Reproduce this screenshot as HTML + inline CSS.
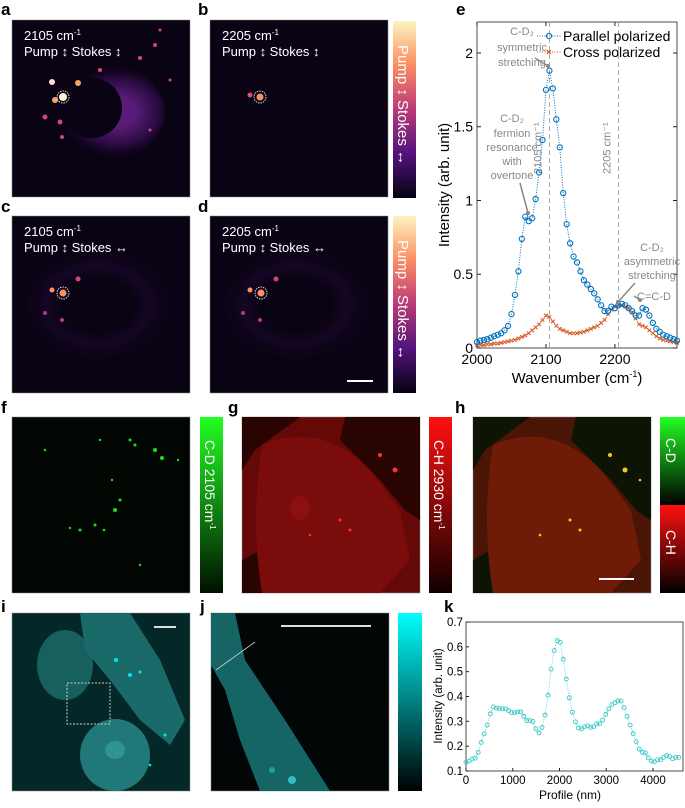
<!DOCTYPE html>
<html><head><meta charset="utf-8"><style>
body{margin:0;background:#fff;font-family:"Liberation Sans",sans-serif}
svg text{font-family:"Liberation Sans","DejaVu Sans",sans-serif}
</style></head><body>
<svg id="fig" width="685" height="803" viewBox="0 0 685 803" xmlns="http://www.w3.org/2000/svg">
<defs>
<linearGradient id="magma" x1="0" y1="0" x2="0" y2="1"><stop offset="0" stop-color="#fcf5c0"/><stop offset="0.25" stop-color="#fc8c62"/><stop offset="0.5" stop-color="#b93a78"/><stop offset="0.75" stop-color="#52137c"/><stop offset="1" stop-color="#050210"/></linearGradient>
<linearGradient id="green" x1="0" y1="0" x2="0" y2="1"><stop offset="0" stop-color="#22ff22"/><stop offset="1" stop-color="#001000"/></linearGradient>
<linearGradient id="red" x1="0" y1="0" x2="0" y2="1"><stop offset="0" stop-color="#ff1010"/><stop offset="1" stop-color="#100000"/></linearGradient>
<linearGradient id="gr1" x1="0" y1="0" x2="0" y2="1"><stop offset="0" stop-color="#22ff22"/><stop offset="1" stop-color="#000"/></linearGradient>
<linearGradient id="rd1" x1="0" y1="0" x2="0" y2="1"><stop offset="0" stop-color="#ff1010"/><stop offset="1" stop-color="#000"/></linearGradient>
<linearGradient id="cyan" x1="0" y1="0" x2="0" y2="1"><stop offset="0" stop-color="#00ffff"/><stop offset="1" stop-color="#000"/></linearGradient>
<radialGradient id="cellA" cx="0.6" cy="0.5" r="0.5"><stop offset="0.3" stop-color="#5a1c78"/><stop offset="0.7" stop-color="#2a0a40"/><stop offset="1" stop-color="#0a0314" stop-opacity="0"/></radialGradient>
<radialGradient id="cellC" cx="0.5" cy="0.5" r="0.5"><stop offset="0.45" stop-color="#0a0314"/><stop offset="0.65" stop-color="#140624"/><stop offset="1" stop-color="#0a0314" stop-opacity="0"/></radialGradient>
</defs>

<g font-weight="bold" font-size="17" fill="#000">
<text x="1" y="15">a</text>
<text x="198" y="15">b</text>
<text x="1" y="212">c</text>
<text x="198" y="212">d</text>
<text x="456" y="15">e</text>
<text x="1" y="413">f</text>
<text x="228" y="413">g</text>
<text x="455" y="413">h</text>
<text x="1" y="612">i</text>
<text x="200" y="612">j</text>
<text x="444" y="612">k</text>
</g>

<g>
<rect x="12" y="20" width="178" height="177" fill="#0a0314" stroke="#888" stroke-width="0.5"/>
<ellipse cx="105" cy="112" rx="60" ry="48" fill="url(#cellA)"/>
<ellipse cx="92" cy="108" rx="30" ry="30" fill="#0a0314"/>
<g fill="#d0457a"><circle cx="52" cy="82" r="3" fill="#fdd"/><circle cx="63" cy="97" r="4" fill="#fff4d0"/><circle cx="78" cy="83" r="3" fill="#fca060"/><circle cx="45" cy="117" r="2.5"/><circle cx="60" cy="122" r="2.5"/><circle cx="62" cy="137" r="2"/><circle cx="100" cy="70" r="2"/><circle cx="140" cy="58" r="2"/><circle cx="155" cy="45" r="2"/><circle cx="160" cy="30" r="1.5"/><circle cx="170" cy="80" r="1.5"/><circle cx="150" cy="130" r="1.5"/><circle cx="55" cy="100" r="3" fill="#fca060"/></g>
<circle cx="63" cy="97" r="6" fill="none" stroke="#ddd" stroke-dasharray="1.5 1"/>
<text x="24" y="40" fill="#fff" font-size="13">2105 cm<tspan font-size="8" dy="-5">-1</tspan></text>
<text x="24" y="56" fill="#fff" font-size="13">Pump ↕ Stokes ↕</text>
</g>
<g>
<rect x="210" y="20" width="178" height="177" fill="#0a0314" stroke="#888" stroke-width="0.5"/>
<circle cx="250" cy="95" r="2.5" fill="#e0506a"/><circle cx="260" cy="97" r="3.5" fill="#fb9060"/><circle cx="260" cy="97" r="6" fill="none" stroke="#ddd" stroke-dasharray="1.5 1"/>
<text x="222" y="40" fill="#fff" font-size="13">2205 cm<tspan font-size="8" dy="-5">-1</tspan></text>
<text x="222" y="56" fill="#fff" font-size="13">Pump ↕ Stokes ↕</text>
</g>
<g>
<rect x="12" y="216" width="178" height="177" fill="#0a0314" stroke="#888" stroke-width="0.5"/>
<ellipse cx="98" cy="305" rx="80" ry="60" fill="url(#cellC)"/>
<circle cx="52" cy="290" r="2.5" fill="#fb9060"/><circle cx="63" cy="293" r="3.5" fill="#fb9060"/><circle cx="78" cy="279" r="2.5" fill="#d0457a"/><circle cx="45" cy="313" r="2" fill="#b03a8a"/><circle cx="62" cy="320" r="2" fill="#b03a8a"/>
<circle cx="63" cy="293" r="6" fill="none" stroke="#ddd" stroke-dasharray="1.5 1"/>
<text x="24" y="236" fill="#fff" font-size="13">2105 cm<tspan font-size="8" dy="-5">-1</tspan></text>
<text x="24" y="252" fill="#fff" font-size="13">Pump ↕ Stokes ↔</text>
</g>
<g>
<rect x="210" y="216" width="178" height="177" fill="#0a0314" stroke="#888" stroke-width="0.5"/>
<ellipse cx="296" cy="305" rx="80" ry="60" fill="url(#cellC)"/>
<circle cx="250" cy="290" r="2.5" fill="#fb9060"/><circle cx="261" cy="293" r="3.5" fill="#fb9060"/><circle cx="276" cy="279" r="2.5" fill="#d0457a"/><circle cx="243" cy="313" r="2" fill="#b03a8a"/><circle cx="260" cy="320" r="2" fill="#b03a8a"/>
<circle cx="261" cy="293" r="6" fill="none" stroke="#ddd" stroke-dasharray="1.5 1"/>
<line x1="347" y1="381" x2="373" y2="381" stroke="#fff" stroke-width="2"/>
<text x="222" y="236" fill="#fff" font-size="13">2205 cm<tspan font-size="8" dy="-5">-1</tspan></text>
<text x="222" y="252" fill="#fff" font-size="13">Pump ↕ Stokes ↔</text>
</g>
<g>
<rect x="393" y="21" width="23" height="177" fill="url(#magma)"/>
<text transform="translate(398,45) rotate(90)" fill="#fff" font-size="15">Pump ↕ Stokes ↔</text>
</g>
<g>
<rect x="393" y="216" width="23" height="177" fill="url(#magma)"/>
<text transform="translate(398,240) rotate(90)" fill="#fff" font-size="15">Pump ↕ Stokes ↔</text>
</g>

<g>
<rect x="12" y="417" width="178" height="176" fill="#020602" stroke="#888" stroke-width="0.5"/>
<g fill="#22d822"><circle cx="130" cy="440" r="1.5"/><circle cx="155" cy="450" r="2"/><circle cx="162" cy="458" r="2"/><circle cx="120" cy="500" r="1.5"/><circle cx="115" cy="510" r="2"/><circle cx="95" cy="525" r="1.5"/><circle cx="80" cy="530" r="1.5"/><circle cx="70" cy="528" r="1.2"/><circle cx="45" cy="450" r="1.2"/><circle cx="140" cy="565" r="1.2"/><circle cx="178" cy="460" r="1.2"/><circle cx="104" cy="530" r="1.3"/><circle cx="112" cy="480" r="1.2"/><circle cx="100" cy="440" r="1.2"/><circle cx="135" cy="445" r="1.5"/></g>
</g>
<g>
<rect x="200" y="417" width="23" height="176" fill="url(#green)"/>
<text transform="translate(205,440) rotate(90)" fill="#fff" font-size="14">C-D 2105 cm<tspan font-size="8" dy="-5">-1</tspan></text>
</g>
<g>
<rect x="242" y="417" width="178" height="176" fill="#640808" stroke="#888" stroke-width="0.5"/>
<path d="M242,417 L300,417 L255,450 L242,470Z M345,417 L420,417 L420,520 L405,510 L380,480 L340,440Z M242,560 L270,545 L300,560 L280,593 L242,593Z" fill="#2a0303"/>
<path d="M262,445 Q320,420 370,470 L400,510 L410,560 L380,593 L262,593 Q250,520 262,445Z" fill="#7a0c0c"/>
<ellipse cx="300" cy="508" rx="10" ry="12" fill="#8c1010"/>
<g fill="#ff3030"><circle cx="380" cy="455" r="2"/><circle cx="395" cy="470" r="2.5"/><circle cx="340" cy="520" r="1.5"/><circle cx="350" cy="530" r="1.5"/><circle cx="310" cy="535" r="1.3"/></g>
</g>
<g>
<rect x="429" y="417" width="23" height="176" fill="url(#red)"/>
<text transform="translate(434,440) rotate(90)" fill="#fff" font-size="14">C-H 2930 cm<tspan font-size="8" dy="-5">-1</tspan></text>
</g>
<g>
<rect x="473" y="417" width="178" height="176" fill="#4a1406" stroke="#888" stroke-width="0.5"/>
<path d="M473,417 L530,417 L485,450 L473,470Z M576,417 L651,417 L651,520 L636,510 L611,480 L571,440Z M473,560 L500,545 L530,560 L510,593 L473,593Z" fill="#0e1404"/>
<path d="M493,445 Q551,420 601,470 L631,510 L641,560 L611,593 L493,593 Q481,520 493,445Z" fill="#6e1c08"/>
<g fill="#e8d020"><circle cx="610" cy="455" r="2"/><circle cx="625" cy="470" r="2.5"/><circle cx="570" cy="520" r="1.5"/><circle cx="580" cy="530" r="1.5"/><circle cx="540" cy="535" r="1.3"/><circle cx="640" cy="480" r="1.3"/></g>
<line x1="599" y1="579" x2="634" y2="579" stroke="#fff" stroke-width="2"/>
</g>
<g>
<rect x="660" y="417" width="25" height="88" fill="url(#gr1)"/>
<rect x="660" y="505" width="25" height="88" fill="url(#rd1)"/>
<text transform="translate(666,438) rotate(90)" fill="#fff" font-size="14">C-D</text>
<text transform="translate(666,530) rotate(90)" fill="#fff" font-size="14">C-H</text>
</g>

<g>
<rect x="12" y="613" width="178" height="178" fill="#042828" stroke="#888" stroke-width="0.5"/>
<ellipse cx="65" cy="665" rx="28" ry="35" fill="#176060"/>
<path d="M80,613 L130,613 L160,660 L185,720 L170,745 L140,720 L110,680 L85,650Z" fill="#1a6a6a"/>
<ellipse cx="115" cy="755" rx="35" ry="36" fill="#207878"/>
<ellipse cx="115" cy="750" rx="10" ry="9" fill="#2e9494"/>
<g fill="#00e8e8"><circle cx="116" cy="660" r="2"/><circle cx="130" cy="675" r="2"/><circle cx="140" cy="672" r="1.5"/><circle cx="165" cy="735" r="1.5"/><circle cx="150" cy="765" r="1.3"/></g>
<rect x="67" y="683" width="43" height="41" fill="none" stroke="#ccc" stroke-dasharray="2 1.5"/>
<line x1="154" y1="627" x2="176" y2="627" stroke="#ddd" stroke-width="2"/>
</g>
<g>
<rect x="211" y="613" width="178" height="178" fill="#020606" stroke="#888" stroke-width="0.5"/>
<path d="M211,613 L235,613 L245,660 L285,720 L330,791 L260,791 L240,740 L225,690 L211,665Z" fill="#156565"/>
<circle cx="292" cy="780" r="4" fill="#30c0c0"/><circle cx="272" cy="770" r="3" fill="#20a0a0"/>
<line x1="216" y1="670" x2="255" y2="642" stroke="#ccc" stroke-width="0.8"/>
<line x1="281" y1="626" x2="371" y2="626" stroke="#ddd" stroke-width="2"/>
</g>
<g><rect x="398" y="613" width="24" height="178" fill="url(#cyan)"/></g>

<g id="chartE"></g>
<g id="chartK"></g>
</svg>
<script>
const wavenumbers=[2000,2005,2010,2015,2020,2025,2030,2035,2040,2045,2050,2055,2060,2065,2070,2075,2080,2085,2090,2095,2100,2105,2110,2115,2120,2125,2130,2135,2140,2145,2150,2155,2160,2165,2170,2175,2180,2185,2190,2195,2200,2205,2210,2215,2220,2225,2230,2235,2240,2245,2250,2255,2260,2265,2270,2275,2280,2285,2290];
const parallelValues=[0.04,0.05,0.055,0.06,0.07,0.08,0.09,0.1,0.12,0.15,0.23,0.36,0.52,0.74,0.89,0.86,0.88,1.01,1.19,1.41,1.75,1.88,1.76,1.55,1.36,1.05,0.84,0.71,0.62,0.58,0.52,0.46,0.43,0.4,0.37,0.33,0.29,0.25,0.25,0.28,0.27,0.29,0.3,0.29,0.27,0.25,0.22,0.22,0.27,0.26,0.22,0.17,0.13,0.11,0.09,0.08,0.07,0.06,0.05];
const crossValues=[0.02,0.02,0.02,0.025,0.025,0.03,0.03,0.035,0.04,0.045,0.05,0.055,0.065,0.075,0.085,0.1,0.12,0.14,0.16,0.19,0.22,0.21,0.18,0.15,0.13,0.12,0.11,0.1,0.1,0.1,0.105,0.11,0.12,0.13,0.14,0.15,0.17,0.19,0.23,0.26,0.28,0.29,0.29,0.28,0.27,0.24,0.2,0.16,0.15,0.14,0.12,0.1,0.08,0.065,0.055,0.05,0.045,0.04,0.035];
const eXTicks=[2000,2100,2200];
const eYTicks=[0,0.5,1,1.5,2];
const eYTickLabels=["0","0.5","1","1.5","2"];
const profileNm=[0,65,130,195,260,325,390,455,520,585,650,715,780,845,910,975,1040,1105,1170,1235,1300,1365,1430,1495,1560,1625,1690,1755,1820,1885,1950,2015,2080,2145,2210,2275,2340,2405,2470,2535,2600,2665,2730,2795,2860,2925,2990,3055,3120,3185,3250,3315,3380,3445,3510,3575,3640,3705,3770,3835,3900,3965,4030,4095,4160,4225,4290,4355,4420,4485,4550];
const profileValues=[0.135,0.14,0.148,0.152,0.175,0.215,0.25,0.285,0.33,0.358,0.353,0.352,0.35,0.35,0.343,0.335,0.335,0.338,0.338,0.32,0.303,0.303,0.3,0.27,0.253,0.275,0.325,0.405,0.51,0.585,0.625,0.618,0.55,0.47,0.395,0.337,0.298,0.273,0.27,0.278,0.282,0.276,0.278,0.29,0.29,0.305,0.328,0.35,0.367,0.375,0.382,0.382,0.355,0.32,0.285,0.25,0.218,0.188,0.175,0.173,0.153,0.14,0.137,0.145,0.145,0.155,0.162,0.158,0.15,0.155,0.155];
const kXTicks=[0,1000,2000,3000,4000];
const kYTicks=[0.1,0.2,0.3,0.4,0.5,0.6,0.7];
const NS="http://www.w3.org/2000/svg";
function mk(parent,tag,attrs,txt){const e=document.createElementNS(NS,tag);for(const k in attrs)e.setAttribute(k,attrs[k]);if(txt!==undefined)e.textContent=txt;parent.appendChild(e);return e;}

(function(){
const g=document.getElementById('chartE');
const L=477,R=677,T=22,B=348;
const ex=v=>L+(v-2000)*(R-L)/290;
const ey=v=>B-v*(B-T)/2.21;
let el=mk(g,'rect',{x:L,y:T,width:R-L,height:B-T,fill:'none',stroke:'#222','stroke-width':0.8});


[2105,2205].forEach(v=>{const l=mk(g,'line',{x1:ex(v),y1:T,x2:ex(v),y2:B,stroke:'#999','stroke-dasharray':'5 3','stroke-width':0.8});

});
mk(g,'text',{transform:`translate(${ex(2105)-8},174) rotate(-90)`,'font-size':11,fill:'#888'},'2105 cm⁻¹');
mk(g,'text',{transform:`translate(${ex(2205)-8},174) rotate(-90)`,'font-size':11,fill:'#888'},'2205 cm⁻¹');
eXTicks.forEach(v=>{mk(g,'line',{x1:ex(v),y1:B,x2:ex(v),y2:B-4,stroke:'#222'});mk(g,'line',{x1:ex(v),y1:T,x2:ex(v),y2:T+4,stroke:'#222'});
const t=mk(g,'text',{x:ex(v),y:B+16,'font-size':14,'text-anchor':'middle'},String(v));

});
eYTicks.forEach((v,i)=>{mk(g,'line',{x1:L,y1:ey(v),x2:L+4,y2:ey(v),stroke:'#222'});mk(g,'line',{x1:R,y1:ey(v),x2:R-4,y2:ey(v),stroke:'#222'});
const t=mk(g,'text',{x:L-4,y:ey(v)+5,'font-size':14,'text-anchor':'end'},eYTickLabels[i]);

});
let t=mk(g,'text',{transform:'translate(449,185) rotate(-90)','font-size':15,'text-anchor':'middle'},'Intensity (arb. unit)');


t=mk(g,'text',{x:577,y:383,'font-size':15,'text-anchor':'middle'});t.innerHTML='Wavenumber (cm<tspan font-size="9" dy="-6">-1</tspan><tspan dy="6">)</tspan>';


let pts=wavenumbers.map((w,i)=>ex(w)+','+ey(crossValues[i])).join(' ');
el=mk(g,'polyline',{points:pts,fill:'none',stroke:'#d95319','stroke-dasharray':'1 1.5','stroke-width':1});


wavenumbers.forEach((w,i)=>{const x=ex(w),y=ey(crossValues[i]);const p=mk(g,'path',{d:`M${x-1.8},${y-1.8}L${x+1.8},${y+1.8}M${x-1.8},${y+1.8}L${x+1.8},${y-1.8}`,stroke:'#d95319','stroke-width':1});

});
pts=wavenumbers.map((w,i)=>ex(w)+','+ey(parallelValues[i])).join(' ');
el=mk(g,'polyline',{points:pts,fill:'none',stroke:'#0072bd','stroke-dasharray':'1 1.5','stroke-width':1});


wavenumbers.forEach((w,i)=>{const c=mk(g,'circle',{cx:ex(w),cy:ey(parallelValues[i]),r:2.6,fill:'none',stroke:'#0072bd','stroke-width':1.1});

});
const lg=mk(g,'g',{});


mk(lg,'line',{x1:537,y1:36,x2:561,y2:36,stroke:'#0072bd','stroke-dasharray':'1 1.5'});mk(lg,'circle',{cx:549,cy:36,r:2.6,fill:'none',stroke:'#0072bd'});
mk(lg,'text',{x:563,y:41,'font-size':14},'Parallel polarized');
mk(lg,'line',{x1:537,y1:52,x2:561,y2:52,stroke:'#d95319','stroke-dasharray':'1 1.5'});mk(lg,'path',{d:'M547,50L551,54M547,54L551,50',stroke:'#d95319'});
mk(lg,'text',{x:563,y:57,'font-size':14},'Cross polarized');
const an=[[ [522,35],'C-D₂'],[[522,51],'symmetric'],[[522,66],'stretching'],[[512,122],'C-D₂'],[[512,137],'fermion'],[[512,151],'resonance'],[[512,165],'with'],[[512,179],'overtone'],[[652,251],'C-D₂'],[[652,265],'asymmetric'],[[652,279],'stretching'],[[654,300],'C=C-D']];
an.forEach(a=>{const x=mk(g,'text',{x:a[0][0],y:a[0][1],'font-size':11,fill:'#888','text-anchor':'middle'},a[1]);

});
[[535,58,548,66],[520,183,528,213],[635,283,618,302],[634,296,640,300]].forEach(a=>{mk(g,'line',{x1:a[0],y1:a[1],x2:a[2],y2:a[3],stroke:'#888','stroke-width':1.5});mk(g,'circle',{cx:a[2],cy:a[3],r:2,fill:'#888'});});
})();

(function(){
const g=document.getElementById('chartK');
const L=466,R=683,T=622,B=771;
const kx=v=>L+v*(653-466)/4000;
const ky=v=>B-(v-0.1)*(B-T)/0.6;
let el=mk(g,'rect',{x:L,y:T,width:R-L,height:B-T,fill:'none',stroke:'#222','stroke-width':0.8});


kXTicks.forEach(v=>{mk(g,'line',{x1:kx(v),y1:B,x2:kx(v),y2:B-3,stroke:'#222'});
const t=mk(g,'text',{x:kx(v),y:B+13,'font-size':11.5,'text-anchor':'middle'},String(v));

});
kYTicks.forEach(v=>{mk(g,'line',{x1:L,y1:ky(v),x2:L+3,y2:ky(v),stroke:'#222'});
const t=mk(g,'text',{x:L-3,y:ky(v)+4,'font-size':11.5,'text-anchor':'end'},v.toFixed(1));

});
let t=mk(g,'text',{transform:'translate(442,696) rotate(-90)','font-size':11.5,'text-anchor':'middle'},'Intensity (arb. unit)');


t=mk(g,'text',{x:570,y:799,'font-size':12,'text-anchor':'middle'},'Profile (nm)');


const pts=profileNm.map((p,i)=>kx(p)+','+ky(profileValues[i])).join(' ');
el=mk(g,'polyline',{points:pts,fill:'none',stroke:'#3cc8c8','stroke-dasharray':'1 1.5','stroke-width':0.8});


profileNm.forEach((p,i)=>{const c=mk(g,'circle',{cx:kx(p),cy:ky(profileValues[i]),r:2,fill:'none',stroke:'#3cc8c8','stroke-width':0.9});

});
})();
</script>
</body></html>
